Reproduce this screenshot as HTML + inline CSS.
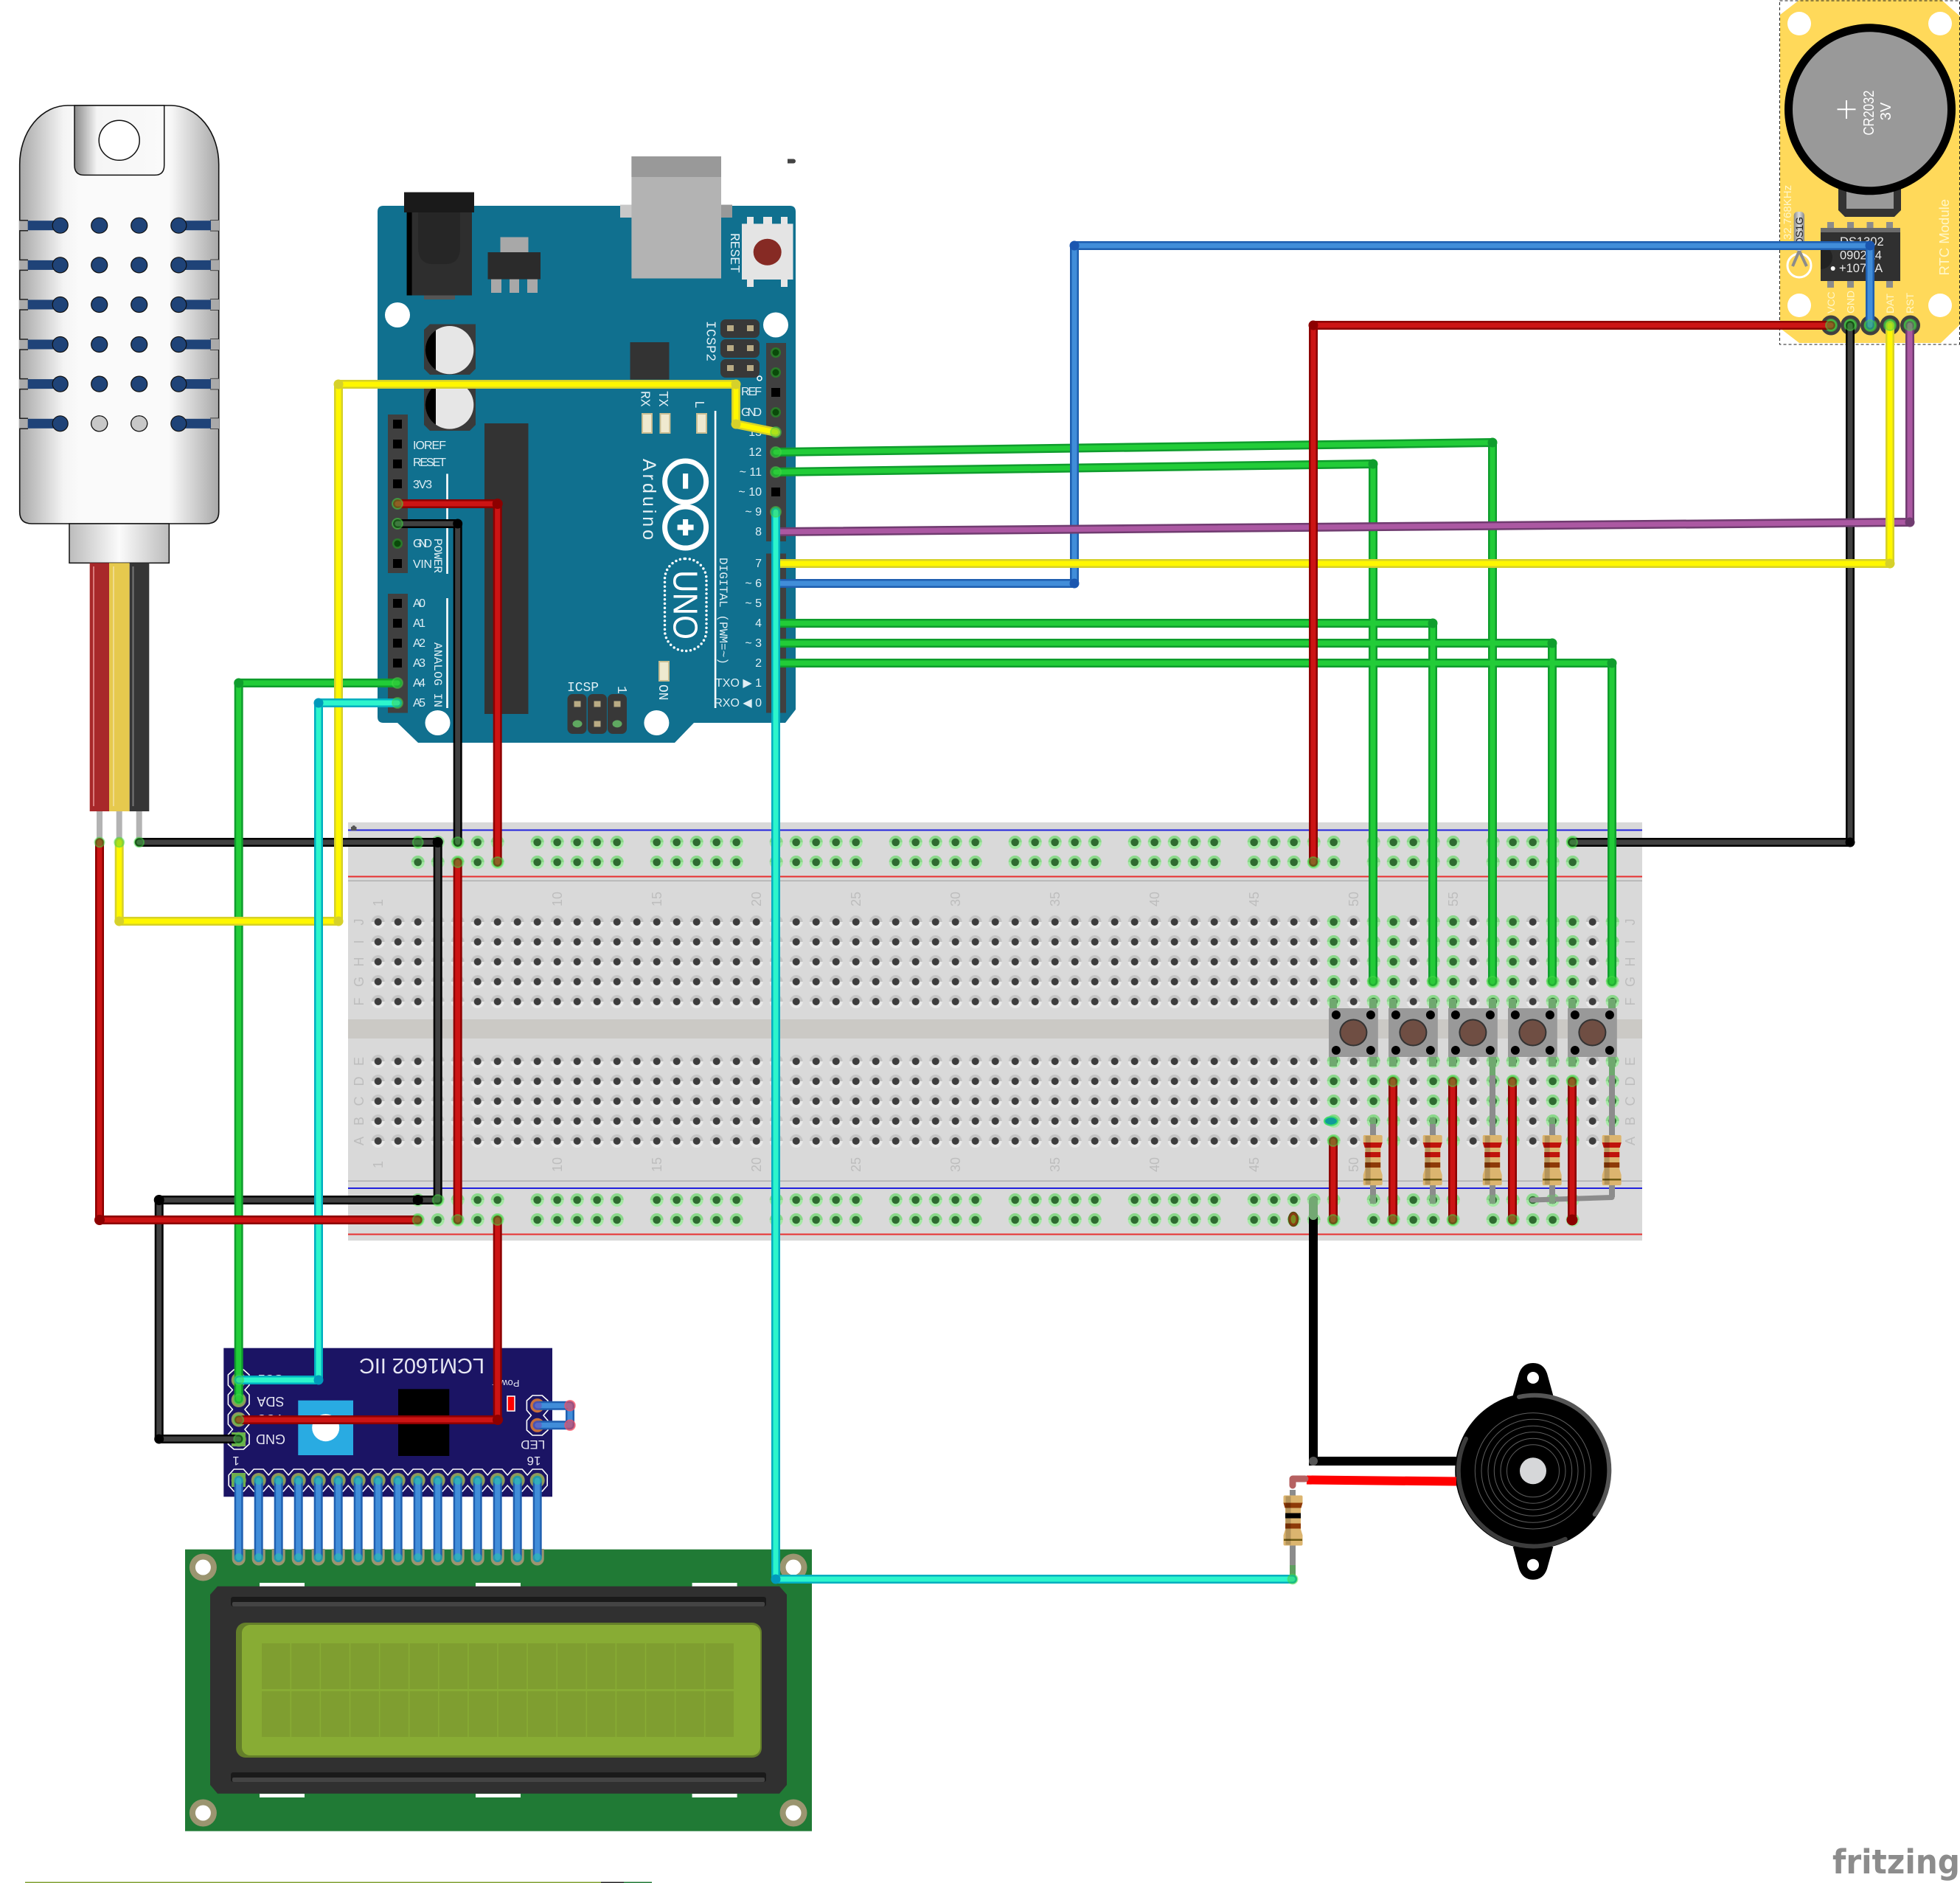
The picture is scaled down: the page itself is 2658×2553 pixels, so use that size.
<!DOCTYPE html>
<html><head><meta charset="utf-8"><title>Fritzing diagram</title>
<style>
html,body{margin:0;padding:0;background:#fff}
svg{display:block}
text{font-family:"Liberation Sans",sans-serif}
.m{font-family:"Liberation Mono",monospace;font-size:16px;fill:#dfeef4}
.r{font-family:"Liberation Mono",monospace;font-size:18px;fill:#dfeef4}
.bb{font-family:"Liberation Sans",sans-serif;font-size:18px;fill:#bdbdbd;text-anchor:middle}
.i2c{font-size:17px;fill:#e6e6f2;text-anchor:middle}
.w{fill:none;stroke-linecap:round;stroke-linejoin:round}
</style></head><body>
<svg xmlns="http://www.w3.org/2000/svg" width="2658" height="2553" viewBox="0 0 2658 2553">
<defs>
<linearGradient id="gb"><stop offset="0" stop-color="#a8a8a8"/><stop offset=".22" stop-color="#f4f4f4"/><stop offset=".3" stop-color="#fafafa"/><stop offset=".75" stop-color="#fafafa"/><stop offset="1" stop-color="#a8a8a8"/></linearGradient>
<linearGradient id="gt"><stop offset="0" stop-color="#8a8a8a"/><stop offset=".25" stop-color="#f5f5f5"/><stop offset="1" stop-color="#fafafa"/></linearGradient>
<linearGradient id="gn"><stop offset="0" stop-color="#bcbcbc"/><stop offset=".5" stop-color="#fbfbfb"/><stop offset="1" stop-color="#bcbcbc"/></linearGradient>
<linearGradient id="gc"><stop offset="0" stop-color="#888"/><stop offset=".5" stop-color="#ddd"/><stop offset="1" stop-color="#888"/></linearGradient>
<pattern id="h" patternUnits="userSpaceOnUse" x="499.2" y="1236.5" width="27" height="27">
<circle cx="13.5" cy="13.5" r="9" fill="#e8e8e8"/><path d="M4.5 13.5a9 9 0 0 1 18 0z" fill="#c4c4c4"/><circle cx="13.5" cy="13.5" r="5" fill="#3c3c3c"/></pattern>
<pattern id="g" patternUnits="userSpaceOnUse" x="499.2" y="1128.5" width="27" height="27">
<circle cx="13.5" cy="13.5" r="9" fill="#a4e8a4"/><path d="M4.5 13.5a9 9 0 0 1 18 0z" fill="#8ad88a"/><circle cx="13.5" cy="13.5" r="5.3" fill="#2e6a30"/></pattern>
<pattern id="g2" patternUnits="userSpaceOnUse" x="499.2" y="1613.5" width="27" height="27">
<circle cx="13.5" cy="13.5" r="9" fill="#a4e8a4"/><path d="M4.5 13.5a9 9 0 0 1 18 0z" fill="#8ad88a"/><circle cx="13.5" cy="13.5" r="5.3" fill="#2e6a30"/></pattern>
<g id="slot">
<rect x="26" y="-7" width="12" height="14" fill="#aaa"/><path d="M26-7H38M26 7H38M285-7H297M285 7H297" stroke="#222" stroke-width="1.5"/>
<rect x="285" y="-7" width="12" height="14" fill="#aaa"/>
<rect x="37.7" y="-6.5" width="44" height="13" fill="#1f4378"/><rect x="242" y="-6.5" width="44" height="13" fill="#1f4378"/>
<g fill="#1f4378" stroke="#111" stroke-width="1.2"><ellipse cx="81.7" rx="10.5" ry="10.5"/><ellipse cx="134.7" rx="11" ry="10.5"/><ellipse cx="188.7" rx="11" ry="10.5"/><ellipse cx="242.3" rx="10.5" ry="10.5"/></g>
</g>
<g id="btn">
<rect x="-33.4" y="-33" width="66.8" height="66" fill="#999"/>
<g fill="#000"><circle cx="-23.5" cy="-24" r="6"/><circle cx="23.5" cy="-24" r="6"/><circle cx="-23.5" cy="24" r="6"/><circle cx="23.5" cy="24" r="6"/></g>
<ellipse rx="19" ry="18.5" fill="#333"/><ellipse rx="17" ry="16.5" fill="#6f4e43"/>
</g>
<path id="rb" d="M-13 2Q-13 0-11 0H11Q13 0 13 2V10L10.5 18V46L13 54V66Q13 68 11 68H-11Q-13 68-13 66V54L-10.5 46V18L-13 10Z" fill="#dcb56f"/>
<g id="res">
<use href="#rb"/>
<path d="M-13 10H13L11 17H-11Z" fill="#c0140c"/><rect x="-10.5" y="23" width="21" height="7" fill="#c0140c"/><rect x="-10.5" y="37" width="21" height="7" fill="#8e3a08"/><rect x="-12.5" y="59" width="25" height="2.5" fill="#6e5a14"/>
<rect x="-10" y="1" width="7" height="66" fill="#000" opacity=".18"/>
</g>
<g id="res2">
<use href="#rb"/>
<path d="M-13 10H13L11 17H-11Z" fill="#8e3a08"/><rect x="-10.5" y="24" width="21" height="7" fill="#000"/><rect x="-10.5" y="38" width="21" height="7" fill="#8e3a08"/><rect x="-12.5" y="59" width="25" height="2.5" fill="#6e5a14"/>
<rect x="-10" y="1" width="7" height="66" fill="#000" opacity=".18"/>
</g>
<g id="oct"><polygon points="-13,-7 -6,-14 6,-14 13,-7 13,7 6,14 -6,14 -13,7" fill="none" stroke="#fff" stroke-width="1.6"/></g>
<g id="pad"><circle r="10" fill="#8f9b5c"/><circle r="6.5" fill="#5fb04c"/></g>
<g id="lp"><path d="M-9 -9H9V4.500A9 9 0 0 1-9 4.500Z" fill="#9b9570"/><rect x="-6" y="-9" width="12" height="14" fill="#5fb04c"/></g>
<g id="blk"><rect x="-6" y="-6" width="12" height="12" fill="#000"/></g>
<g id="grn"><circle r="7" fill="#2a7a2a"/><circle r="4.5" fill="#0a4a0a"/></g>
<g id="hdr"><circle r="13.500" fill="#404040"/><circle r="9" fill="#3f8f3f"/></g>
<g id="w16">
<path d="M323.700 2007V2112M350.700 2007V2112M377.700 2007V2112M404.700 2007V2112M431.700 2007V2112M458.700 2007V2112M485.700 2007V2112M512.700 2007V2112M539.700 2007V2112M566.700 2007V2112M593.700 2007V2112M620.700 2007V2112M647.700 2007V2112M674.700 2007V2112M701.700 2007V2112M728.700 2007V2112"/>
<path d="M728.700 1905.700H773V1932.300H728.700"/>
</g>
<path id="wBk" d="M188.700 1142H593.700V1627M593.700 1627H215.700V1951H323.700M539 710H620.700V1142M2509 441V1142H2132"/>
<path id="wG" d="M539 926H323.700V1897M1052 613L2024 600V1331M1052 640L1862 629V1331M1052 845H1943V1331M1052 872H2105V1331M1052 899H2186V1331"/>
<path id="wB" d="M1052 791H1457V333H2536V441"/>
<path id="wP" d="M1052 721L2590 708V441"/>
<path id="wY" d="M1052 586L998 575V521H459V1249H161.700V1142M1052 764H2563V441"/>
<path id="wC" d="M539 953H432V1871H323.700M1052 694V2141H1753"/>
<path id="wR" d="M135 1142V1654H566.700M539 683H674.700V1169M620.700 1169V1654M674.700 1654V1925H323.700M2483 441H1781V1169M1808 1547V1654M1889 1466V1654M1970 1466V1654M2051 1466V1654M2132 1466V1654"/>
</defs>

<rect width="2658" height="2553" fill="#fff"/>

<!-- Sensor -->
<g>
<path d="M26.700 223A65 80 0 0 1 92 143H232A65 80 0 0 1 296.700 223V694Q296.700 710 280 710H43Q26.700 710 26.700 694Z" fill="url(#gb)" stroke="#111" stroke-width="1.6"/>
<path d="M101 143V224Q101 237.400 114 237.400H210Q222.700 237.400 222.700 224V143Z" fill="url(#gt)" stroke="#111" stroke-width="1.5"/>
<ellipse cx="161.700" cy="190.300" rx="27.500" ry="27" fill="#fff" stroke="#111" stroke-width="1.5"/>
<use href="#slot" y="305.700"/><use href="#slot" y="359.400"/><use href="#slot" y="413"/><use href="#slot" y="467"/><use href="#slot" y="520.600"/><use href="#slot" y="574.300"/>
<ellipse cx="134.700" cy="574.300" rx="11" ry="10.500" fill="#c8c8c8" stroke="#111" stroke-width="1.200"/>
<ellipse cx="188.700" cy="574.300" rx="11" ry="10.500" fill="#c8c8c8" stroke="#111" stroke-width="1.200"/>
<rect x="94" y="710" width="135.300" height="53.300" fill="url(#gn)" stroke="#111" stroke-width="1.500"/>
<rect x="121.700" y="763.300" width="26.300" height="336.700" fill="#a8282a"/>
<rect x="148" y="763.300" width="27.700" height="336.700" fill="#e6c94e"/>
<rect x="175.700" y="763.300" width="26.600" height="336.700" fill="#363636"/>
<rect x="126" y="768" width="2" height="325" fill="#d87a7a"/><rect x="153" y="768" width="2" height="325" fill="#f0dc8c"/><rect x="179.500" y="768" width="2" height="325" fill="#777"/>
<rect x="131" y="1100" width="8" height="42" fill="#b3b3b3"/><rect x="157.700" y="1100" width="8" height="42" fill="#b3b3b3"/><rect x="184.700" y="1100" width="8" height="42" fill="#b3b3b3"/>
</g>

<!-- Breadboard -->
<g>
<rect x="472" y="1115" width="1755" height="567" fill="#d9d9d9"/>
<rect x="472" y="1382" width="1755" height="26" fill="#cbc9c5"/>
<rect x="472" y="1124.500" width="1755" height="2" fill="#2222dd"/>
<rect x="472" y="1187.500" width="1755" height="2" fill="#e83030"/>
<rect x="472" y="1193.500" width="1755" height="1.500" fill="#b0b0b0"/>
<rect x="472" y="1600.500" width="1755" height="1.500" fill="#b0b0b0"/>
<rect x="472" y="1610" width="1755" height="2" fill="#2222dd"/>
<rect x="472" y="1672.500" width="1755" height="2" fill="#e83030"/>
<path d="M476 1126v-5h7.500v5zM477.500 1121a2.300 2.300 0 0 1 4.500 0" fill="#555"/>
<rect x="499.200" y="1236.500" width="1701" height="135" fill="url(#h)"/>
<rect x="499.200" y="1425.500" width="1701" height="135" fill="url(#h)"/>
<g fill="url(#g)">
<rect x="1795.200" y="1236.500" width="27" height="135"/><rect x="1849.200" y="1236.500" width="54" height="135"/><rect x="1930.200" y="1236.500" width="54" height="135"/><rect x="2011.200" y="1236.500" width="54" height="135"/><rect x="2092.200" y="1236.500" width="54" height="135"/><rect x="2173.200" y="1236.500" width="27" height="135"/>
<rect x="1795.200" y="1425.500" width="27" height="135"/><rect x="1849.200" y="1425.500" width="54" height="135"/><rect x="1930.200" y="1425.500" width="54" height="135"/><rect x="2011.200" y="1425.500" width="54" height="135"/><rect x="2092.200" y="1425.500" width="54" height="135"/><rect x="2173.200" y="1425.500" width="27" height="135"/>
<rect x="553.200" y="1128.500" width="135" height="54"/><rect x="715.200" y="1128.500" width="135" height="54"/><rect x="877.200" y="1128.500" width="135" height="54"/><rect x="1039.200" y="1128.500" width="135" height="54"/><rect x="1201.200" y="1128.500" width="135" height="54"/><rect x="1363.200" y="1128.500" width="135" height="54"/><rect x="1525.200" y="1128.500" width="135" height="54"/><rect x="1687.200" y="1128.500" width="135" height="54"/><rect x="1849.200" y="1128.500" width="135" height="54"/><rect x="2011.200" y="1128.500" width="135" height="54"/>
</g>
<g fill="url(#g2)">
<rect x="553.200" y="1613.500" width="135" height="54"/><rect x="715.200" y="1613.500" width="135" height="54"/><rect x="877.200" y="1613.500" width="135" height="54"/><rect x="1039.200" y="1613.500" width="135" height="54"/><rect x="1201.200" y="1613.500" width="135" height="54"/><rect x="1363.200" y="1613.500" width="135" height="54"/><rect x="1525.200" y="1613.500" width="135" height="54"/><rect x="1687.200" y="1613.500" width="135" height="54"/><rect x="1849.200" y="1613.500" width="135" height="54"/><rect x="2011.200" y="1613.500" width="135" height="54"/>
</g>
<!-- labels -->
<g class="bb">
<text x="513" y="1224" transform="rotate(-90 513 1224)" dy="6">1</text>
<text x="756" y="1219" transform="rotate(-90 756 1219)" dy="6">10</text><text x="891" y="1219" transform="rotate(-90 891 1219)" dy="6">15</text><text x="1026" y="1219" transform="rotate(-90 1026 1219)" dy="6">20</text><text x="1161" y="1219" transform="rotate(-90 1161 1219)" dy="6">25</text><text x="1296" y="1219" transform="rotate(-90 1296 1219)" dy="6">30</text><text x="1431" y="1219" transform="rotate(-90 1431 1219)" dy="6">35</text><text x="1566" y="1219" transform="rotate(-90 1566 1219)" dy="6">40</text><text x="1701" y="1219" transform="rotate(-90 1701 1219)" dy="6">45</text><text x="1836" y="1219" transform="rotate(-90 1836 1219)" dy="6">50</text><text x="1971" y="1219" transform="rotate(-90 1971 1219)" dy="6">55</text>
<text x="513" y="1579" transform="rotate(-90 513 1579)" dy="6">1</text>
<text x="756" y="1579" transform="rotate(-90 756 1579)" dy="6">10</text><text x="891" y="1579" transform="rotate(-90 891 1579)" dy="6">15</text><text x="1026" y="1579" transform="rotate(-90 1026 1579)" dy="6">20</text><text x="1161" y="1579" transform="rotate(-90 1161 1579)" dy="6">25</text><text x="1296" y="1579" transform="rotate(-90 1296 1579)" dy="6">30</text><text x="1431" y="1579" transform="rotate(-90 1431 1579)" dy="6">35</text><text x="1566" y="1579" transform="rotate(-90 1566 1579)" dy="6">40</text><text x="1701" y="1579" transform="rotate(-90 1701 1579)" dy="6">45</text><text x="1836" y="1579" transform="rotate(-90 1836 1579)" dy="6">50</text>
<text x="487" y="1250" transform="rotate(-90 487 1250)" dy="6">J</text><text x="487" y="1277" transform="rotate(-90 487 1277)" dy="6">I</text><text x="487" y="1304" transform="rotate(-90 487 1304)" dy="6">H</text><text x="487" y="1331" transform="rotate(-90 487 1331)" dy="6">G</text><text x="487" y="1358" transform="rotate(-90 487 1358)" dy="6">F</text><text x="487" y="1439" transform="rotate(-90 487 1439)" dy="6">E</text><text x="487" y="1466" transform="rotate(-90 487 1466)" dy="6">D</text><text x="487" y="1493" transform="rotate(-90 487 1493)" dy="6">C</text><text x="487" y="1520" transform="rotate(-90 487 1520)" dy="6">B</text><text x="487" y="1547" transform="rotate(-90 487 1547)" dy="6">A</text>
<text x="2211" y="1250" transform="rotate(-90 2211 1250)" dy="6">J</text><text x="2211" y="1277" transform="rotate(-90 2211 1277)" dy="6">I</text><text x="2211" y="1304" transform="rotate(-90 2211 1304)" dy="6">H</text><text x="2211" y="1331" transform="rotate(-90 2211 1331)" dy="6">G</text><text x="2211" y="1358" transform="rotate(-90 2211 1358)" dy="6">F</text><text x="2211" y="1439" transform="rotate(-90 2211 1439)" dy="6">E</text><text x="2211" y="1466" transform="rotate(-90 2211 1466)" dy="6">D</text><text x="2211" y="1493" transform="rotate(-90 2211 1493)" dy="6">C</text><text x="2211" y="1520" transform="rotate(-90 2211 1520)" dy="6">B</text><text x="2211" y="1547" transform="rotate(-90 2211 1547)" dy="6">A</text>
</g>
<!-- small marks -->
<ellipse cx="1805" cy="1520" rx="9" ry="5.700" fill="#0f9a9a" stroke="#3fdc6a" stroke-width="2"/>
<ellipse cx="1754" cy="1653" rx="6.500" ry="9.500" fill="#8a3a10" stroke="#5a4a10" stroke-width="1.500"/><ellipse cx="1754" cy="1653" rx="3.500" ry="6" fill="#7a8a20"/>
<ellipse cx="2104.700" cy="1169" rx="6" ry="5" fill="#8a5a10"/>
<!-- button stems -->
<path d="M1808 1354V1446M1862 1354V1446M1889 1354V1446M1943 1354V1446M1970 1354V1446M2024 1354V1446M2051 1354V1446M2105 1354V1446M2132 1354V1446M2186 1354V1446" stroke="#6fa86f" stroke-width="10" fill="none"/>
<use href="#btn" x="1835.400" y="1400"/><use href="#btn" x="1916.400" y="1400"/><use href="#btn" x="1997.400" y="1400"/><use href="#btn" x="2078.400" y="1400"/><use href="#btn" x="2159.400" y="1400"/>
<!-- resistor leads -->
<path d="M1862 1520V1627M1943 1520V1627M2024 1458V1627M2105 1520V1627M2186 1458V1623" stroke="#8c8c8c" stroke-width="8" fill="none"/>
<path d="M2024 1440V1458M2186 1440V1458M1862 1515V1524M1943 1515V1524M2105 1515V1524" stroke="#6fa86f" stroke-width="8" fill="none"/>
<path d="M2077.700 1627L2186 1623.500" stroke="#8c8c8c" stroke-width="7" stroke-linecap="round" fill="none"/>
<path d="M1862 1620V1632M1943 1620V1632M2024 1620V1632M2105 1620V1632" stroke="#7fa07f" stroke-width="8" fill="none"/>
<use href="#res" x="1861.700" y="1539"/><use href="#res" x="1942.700" y="1539"/><use href="#res" x="2023.700" y="1539"/><use href="#res" x="2104.700" y="1539"/><use href="#res" x="2185.700" y="1539"/>
</g>

<!-- Arduino -->
<g>
<path d="M520 279H1071Q1079 279 1079 287V962L1065 980H941L915 1007H567L539 980H520Q512 980 512 972V287Q512 279 520 279Z" fill="#10708f"/>
<!-- USB -->
<rect x="841" y="277.600" width="152" height="17.400" fill="#c8c8c8"/>
<rect x="978" y="277.600" width="15" height="17.400" fill="#999"/>
<rect x="856.400" y="212" width="121.600" height="165.500" fill="#b3b3b3"/><rect x="856.400" y="212" width="121.600" height="28" fill="#999"/>
<!-- jack -->
<rect x="575" y="400" width="42" height="6" fill="#555"/>
<rect x="551.600" y="288" width="88.400" height="112.500" fill="#2e2e2e"/><rect x="551.600" y="288" width="7" height="112.500" fill="#000"/>
<rect x="548" y="260.600" width="95" height="27.400" fill="#1a1a1a"/>
<path d="M567 288H624V335Q624 358 604 358H587Q567 358 567 335Z" fill="#262626"/>
<!-- regulator -->
<rect x="678.500" y="321.500" width="38" height="21" fill="#a8a8a8"/>
<rect x="666" y="378" width="14" height="19" fill="#a8a8a8"/><rect x="691" y="378" width="13" height="19" fill="#a8a8a8"/><rect x="715" y="378" width="14" height="19" fill="#a8a8a8"/>
<rect x="661.500" y="342" width="71.500" height="36.600" fill="#2b2b2b"/>
<!-- reset -->
<g fill="#e6e6e6"><rect x="1013" y="294" width="9" height="10"/><rect x="1035" y="294" width="12" height="10"/><rect x="1059" y="294" width="9" height="10"/><rect x="1013" y="378" width="9" height="11"/><rect x="1059" y="378" width="9" height="11"/></g>
<rect x="1006" y="303.400" width="69.500" height="75.600" fill="#e4e4e4"/>
<ellipse cx="1040.700" cy="341.800" rx="19" ry="18" fill="#862a24"/>
<!-- holes -->
<g fill="#fff"><circle cx="539" cy="427" r="17"/><circle cx="1052" cy="440.500" r="17"/><circle cx="593.500" cy="980" r="17"/><circle cx="890.400" cy="980" r="17"/></g>
<!-- caps -->
<path d="M583 439.500H645V500L637 508H583L575 500V447Z" fill="#3a3a3a"/>
<path d="M583 515H645V576L637 584H583L575 576V523Z" fill="#3a3a3a"/>
<circle cx="609.700" cy="474.600" r="32.600" fill="#e6e6e6"/><path d="M591 447.700A32.600 32.600 0 0 0 591 501.400Z" fill="#000"/>
<circle cx="609.700" cy="549" r="32.600" fill="#e6e6e6"/><path d="M591 522.100A32.600 32.600 0 0 0 591 575.800Z" fill="#000"/>
<!-- chips -->
<rect x="657" y="574" width="59.500" height="394" fill="#333"/>
<rect x="854.500" y="464" width="53" height="50.600" fill="#333"/>
<!-- headers -->
<rect x="526" y="562" width="27" height="215" fill="#404040"/><rect x="526" y="805" width="27" height="161.600" fill="#404040"/>
<rect x="1039" y="465" width="27" height="269" fill="#404040"/><rect x="1039" y="750.500" width="27" height="216" fill="#404040"/>
<g>
<use href="#blk" x="539" y="575"/><use href="#blk" x="539" y="602"/><use href="#blk" x="539" y="629"/><use href="#blk" x="539" y="656"/><use href="#grn" x="539" y="737"/><use href="#blk" x="539" y="764"/>
<use href="#blk" x="539" y="818"/><use href="#blk" x="539" y="845"/><use href="#blk" x="539" y="872"/><use href="#blk" x="539" y="899"/>
<use href="#grn" x="1052" y="478"/><use href="#grn" x="1052" y="505"/><use href="#blk" x="1052" y="532"/><use href="#grn" x="1052" y="559"/><use href="#blk" x="1052" y="667"/>
<use href="#blk" x="1052" y="818"/><use href="#blk" x="1052" y="926"/><use href="#blk" x="1052" y="953"/>
</g>
<!-- ICSP2 -->
<g fill="#383838"><rect x="977" y="433" width="53" height="25" rx="7"/><rect x="977" y="460" width="53" height="25" rx="7"/><rect x="977" y="487" width="53" height="25" rx="7"/></g>
<g fill="#b9ab84"><rect x="986" y="441" width="9" height="8"/><rect x="1013" y="441" width="9" height="8"/><rect x="986" y="468" width="9" height="8"/><rect x="1013" y="468" width="9" height="8"/><rect x="986" y="495" width="9" height="8"/><rect x="1013" y="495" width="9" height="8"/></g>
<circle cx="1030" cy="513" r="3" fill="none" stroke="#fff" stroke-width="1.500"/>
<!-- ICSP -->
<g fill="#383838"><rect x="769.500" y="941" width="26" height="54" rx="7"/><rect x="797" y="941" width="26" height="54" rx="7"/><rect x="824" y="941" width="26" height="54" rx="7"/></g>
<g fill="#b9ab84"><rect x="778.500" y="950.500" width="9" height="8"/><rect x="805.500" y="950.500" width="9" height="8"/><rect x="832.500" y="950.500" width="9" height="8"/><rect x="805.500" y="977.500" width="9" height="8"/></g>
<ellipse cx="783" cy="981.400" rx="6.500" ry="5" fill="#5fa860"/><ellipse cx="837" cy="981.400" rx="6.500" ry="5" fill="#5fa860"/>
<!-- LEDs -->
<g fill="#efe9cf" stroke="#c9bd92" stroke-width="2"><rect x="871" y="561" width="13" height="26"/><rect x="895.400" y="561" width="13" height="26"/><rect x="945" y="561" width="13" height="26"/><rect x="894" y="897" width="13" height="26"/></g>
<!-- lines -->
<g fill="#fff"><rect x="968.800" y="557" width="2.600" height="403"/><rect x="605.200" y="642.400" width="2.600" height="135.600"/><rect x="605.200" y="811" width="2.600" height="149"/></g>
<!-- logo -->
<circle cx="929.600" cy="653" r="28" fill="none" stroke="#fff" stroke-width="7"/>
<circle cx="929.600" cy="715" r="28" fill="none" stroke="#fff" stroke-width="7"/>
<rect x="926" y="642" width="7.200" height="20.600" fill="#fff"/>
<rect x="926" y="704" width="7.200" height="22" fill="#fff"/><rect x="918.600" y="711.400" width="22" height="7.200" fill="#fff"/>
<rect x="901.500" y="757.500" width="56.500" height="125" rx="28" fill="none" stroke="#fff" stroke-width="3.500" stroke-dasharray="0 5.800" stroke-linecap="round"/>
<text x="929.600" y="820" transform="rotate(90 929.600 820)" text-anchor="middle" dy="16" font-size="46" fill="#fff" textLength="94" lengthAdjust="spacingAndGlyphs">UNO</text>
<text x="872" y="622" transform="rotate(90 872 622)" font-size="25" fill="#e6f0f4" textLength="110">Arduino</text>
<text x="976" y="756" transform="rotate(90 976 756)" class="m" textLength="145">DIGITAL (PWM=~)</text>
<text x="589" y="730" transform="rotate(90 589 730)" class="m" textLength="47">POWER</text>
<text x="589" y="871" transform="rotate(90 589 871)" class="m" textLength="88">ANALOG IN</text>
<text x="991" y="316" transform="rotate(90 991 316)" class="r" textLength="54">RESET</text>
<text x="958.500" y="435" transform="rotate(90 958.500 435)" class="r" textLength="55">ICSP2</text>
<text x="869.500" y="530" transform="rotate(90 869.500 530)" class="r">RX</text>
<text x="894" y="530" transform="rotate(90 894 530)" class="r">TX</text>
<text x="943" y="543" transform="rotate(90 943 543)" class="r">L</text>
<text x="894" y="928" transform="rotate(90 894 928)" class="r">ON</text>
<text x="769" y="937" class="r" textLength="43">ICSP</text>
<text x="838" y="930" transform="rotate(90 838 930)" class="r">1</text>
<g class="m">
<text x="560" y="609" textLength="45">IOREF</text><text x="560" y="632" textLength="45">RESET</text><text x="560" y="662" textLength="26">3V3</text><text x="560" y="742" textLength="26">GND</text><text x="560" y="770" textLength="26">VIN</text>
<text x="560" y="823" textLength="17">A0</text><text x="560" y="850" textLength="17">A1</text><text x="560" y="877" textLength="17">A2</text><text x="560" y="904" textLength="17">A3</text><text x="560" y="931" textLength="17">A4</text><text x="560" y="958" textLength="17">A5</text>
<text x="1005" y="536" textLength="28">REF</text><text x="1005" y="564" textLength="28">GND</text>
<g text-anchor="end">
<text x="1033" y="591">13</text><text x="1033" y="618">12</text><text x="1033" y="645">~ 11</text><text x="1033" y="672">~ 10</text><text x="1033" y="699">~ 9</text><text x="1033" y="726">8</text><text x="1033" y="769">7</text><text x="1033" y="796">~ 6</text><text x="1033" y="823">~ 5</text><text x="1033" y="850">4</text><text x="1033" y="877">~ 3</text><text x="1033" y="904">2</text><text x="1033" y="931">TXO ▶ 1</text><text x="1033" y="958">RXO ◀ 0</text>
</g>
</g>
<path d="M1068 215.500h8a3 3 0 0 1 0 6h-8z" fill="#444"/>
</g>

<!-- RTC -->
<g>
<path d="M2440 0H2633L2658 22V440L2632 465H2440L2414 445V20Z" fill="#ffd95a"/>
<g fill="#fff"><circle cx="2440" cy="32" r="16"/><circle cx="2631" cy="32" r="16"/><circle cx="2440" cy="414" r="16"/><circle cx="2631" cy="414" r="16"/></g>
<path d="M2493 240H2578V285L2569 294H2502L2493 285Z" fill="#333"/><rect x="2504" y="240" width="64" height="43" fill="#999"/>
<circle cx="2536" cy="148.300" r="116" fill="#000"/><circle cx="2536" cy="148.300" r="105" fill="#999"/>
<path d="M2491.500 148.300H2516.500M2504 136V161" stroke="#fff" stroke-width="2" fill="none"/>
<text x="2541" y="153" transform="rotate(-90 2541 153)" text-anchor="middle" font-size="20" fill="#fff" textLength="61" lengthAdjust="spacingAndGlyphs">CR2032</text>
<text x="2564" y="151" transform="rotate(-90 2564 151)" text-anchor="middle" font-size="20" fill="#fff">3V</text>
<text x="2429" y="288" transform="rotate(-90 2429 288)" text-anchor="middle" font-size="15" fill="#fff6c8">32.768KHz</text>
<text x="2643" y="321.700" transform="rotate(-90 2643 321.700)" text-anchor="middle" font-size="18.500" fill="#fff6c8">RTC Module</text>
<!-- crystal -->
<circle cx="2440" cy="360" r="16" fill="none" stroke="#fff" stroke-width="3"/>
<path d="M2440 340L2431 361M2440 340L2450 361" stroke="#8c8c8c" stroke-width="4" fill="none"/>
<rect x="2432.700" y="287" width="14.300" height="53" rx="5" fill="url(#gc)"/>
<text x="2440" y="313" transform="rotate(-90 2440 313)" text-anchor="middle" dy="5" font-size="14" fill="#222">DS1G</text>
<!-- chip -->
<g fill="#8c8c8c"><rect x="2478" y="301" width="9" height="9"/><rect x="2505" y="301" width="9" height="9"/><rect x="2531.500" y="301" width="9" height="9"/><rect x="2558" y="301" width="9" height="9"/><rect x="2478" y="381" width="9" height="9"/><rect x="2505" y="381" width="9" height="9"/><rect x="2531.500" y="381" width="9" height="9"/><rect x="2558" y="381" width="9" height="9"/></g>
<rect x="2469" y="309" width="108" height="72" fill="#303030"/><rect x="2469" y="309" width="108" height="6" fill="#6b6b6b"/>
<path d="M2469 333A15 15 0 0 1 2469 365Z" fill="#222"/>
<g font-size="16.500" fill="#e8e8e8"><text x="2495" y="333">DS1302</text><text x="2495" y="351.500">0902A4</text><text x="2494" y="369">+107AA</text></g>
<circle cx="2485.700" cy="364" r="3" fill="#fff"/>
<g font-size="14" fill="#fff6c8" text-anchor="start">
<text x="2488" y="425" transform="rotate(-90 2488 425)">VCC</text><text x="2514.500" y="425" transform="rotate(-90 2514.500 425)">GND</text><text x="2541" y="425" transform="rotate(-90 2541 425)">CLK</text><text x="2568" y="425" transform="rotate(-90 2568 425)">DAT</text><text x="2595" y="425" transform="rotate(-90 2595 425)">RST</text>
</g>
<use href="#hdr" x="2483" y="441"/><use href="#hdr" x="2509.500" y="441"/><use href="#hdr" x="2536.500" y="441"/><use href="#hdr" x="2563" y="441"/><use href="#hdr" x="2590.500" y="441"/>
<rect x="2413.500" y="1" width="244" height="466" fill="none" stroke="#222" stroke-width="1" stroke-dasharray="4 3"/>
</g>

<!-- LCD -->
<g>
<rect x="251" y="2100.700" width="850" height="382" fill="#207a35"/>
<g fill="#9b9570"><circle cx="275.400" cy="2125" r="18.500"/><circle cx="1076" cy="2125" r="18.500"/><circle cx="275.400" cy="2458" r="18.500"/><circle cx="1076" cy="2458" r="18.500"/></g>
<g fill="#fff"><ellipse cx="275.400" cy="2125" rx="10.500" ry="10.500"/><ellipse cx="1076" cy="2125" rx="10.500" ry="10.500"/><ellipse cx="275.400" cy="2458" rx="10.500" ry="10.500"/><ellipse cx="1076" cy="2458" rx="10.500" ry="10.500"/></g>
<g fill="#fff"><rect x="352" y="2146" width="61" height="5"/><rect x="645" y="2146" width="61" height="5"/><rect x="938.600" y="2146" width="61" height="5"/><rect x="352" y="2432" width="61" height="5"/><rect x="645" y="2432" width="61" height="5"/><rect x="938.600" y="2432" width="61" height="5"/></g>
<path d="M295 2150.700H1057L1067 2162V2420L1057 2431.700H295L285 2420V2162Z" fill="#303030"/>
<rect x="313" y="2165" width="726" height="13" rx="3" fill="#1a1a1a"/><rect x="315" y="2172" width="722" height="6" rx="2" fill="#444"/>
<rect x="313" y="2403" width="726" height="13" rx="3" fill="#1a1a1a"/><rect x="315" y="2410" width="722" height="6" rx="2" fill="#444"/>
<rect x="320" y="2200" width="713" height="183" rx="13" fill="#647f2a"/><rect x="328" y="2203" width="703" height="177" rx="11" fill="#88ac34"/>
<g fill="#7f9e30" id="cells">
<rect x="355" y="2228" width="38.500" height="62"/><rect x="395.100" y="2228" width="38.500" height="62"/><rect x="435.200" y="2228" width="38.500" height="62"/><rect x="475.300" y="2228" width="38.500" height="62"/><rect x="515.400" y="2228" width="38.500" height="62"/><rect x="555.500" y="2228" width="38.500" height="62"/><rect x="595.600" y="2228" width="38.500" height="62"/><rect x="635.700" y="2228" width="38.500" height="62"/><rect x="675.800" y="2228" width="38.500" height="62"/><rect x="715.900" y="2228" width="38.500" height="62"/><rect x="756" y="2228" width="38.500" height="62"/><rect x="796.100" y="2228" width="38.500" height="62"/><rect x="836.200" y="2228" width="38.500" height="62"/><rect x="876.300" y="2228" width="38.500" height="62"/><rect x="916.400" y="2228" width="38.500" height="62"/><rect x="956.500" y="2228" width="38.500" height="62"/>
</g>
<use href="#cells" y="65"/>
<use href="#lp" x="323.700" y="2109"/><use href="#lp" x="350.700" y="2109"/><use href="#lp" x="377.700" y="2109"/><use href="#lp" x="404.700" y="2109"/><use href="#lp" x="431.700" y="2109"/><use href="#lp" x="458.700" y="2109"/><use href="#lp" x="485.700" y="2109"/><use href="#lp" x="512.700" y="2109"/><use href="#lp" x="539.700" y="2109"/><use href="#lp" x="566.700" y="2109"/><use href="#lp" x="593.700" y="2109"/><use href="#lp" x="620.700" y="2109"/><use href="#lp" x="647.700" y="2109"/><use href="#lp" x="674.700" y="2109"/><use href="#lp" x="701.700" y="2109"/><use href="#lp" x="728.700" y="2109"/>
</g>

<!-- I2C -->
<g>
<rect x="303.300" y="1827.700" width="445.700" height="201.600" fill="#1b1464"/>
<text x="572" y="1852" transform="rotate(180 572 1852)" text-anchor="middle" dy="10" font-size="29" fill="#e6e6f2" textLength="170">LCM1602 IIC</text>
<text x="686" y="1876" transform="rotate(180 686 1876)" text-anchor="middle" dy="5" font-size="13" fill="#e6e6f2">Power</text>
<rect x="688" y="1893" width="10" height="20" fill="#f00" stroke="#fff" stroke-width="1.500"/>
<g class="i2c">
<text x="367" y="1870" transform="rotate(180 367 1870)" dy="6">SCL</text><text x="367" y="1900" transform="rotate(180 367 1900)" dy="6" font-size="18">SDA</text><text x="367" y="1924" transform="rotate(180 367 1924)" dy="6">VCC</text><text x="367" y="1951" transform="rotate(180 367 1951)" dy="6" font-size="18">GND</text>
<text x="722.700" y="1959" transform="rotate(180 722.700 1959)" dy="6">LED</text><text x="724" y="1981" transform="rotate(180 724 1981)" dy="6">16</text><text x="320" y="1981" transform="rotate(180 320 1981)" dy="6">1</text>
</g>
<rect x="404.300" y="1898.700" width="74.700" height="74.300" fill="#29abe2"/><circle cx="441.700" cy="1935.700" r="18.500" fill="#fff"/>
<rect x="540" y="1883.300" width="69.300" height="90.700" fill="#000"/>
<!-- silkscreen outlines -->
<g fill="none" stroke="#fff" stroke-width="1.600" stroke-linejoin="round">
<path d="M310.200 2000l7-8h13l7 8l7-8h13l7 8l7-8h13l7 8l7-8h13l7 8l7-8h13l7 8l7-8h13l7 8l7-8h13l7 8l7-8h13l7 8l7-8h13l7 8l7-8h13l7 8l7-8h13l7 8l7-8h13l7 8l7-8h13l7 8l7-8h13l7 8l7-8h13l7 8l7-8h13l7 8V2014l-7 8h-13l-7-8l-7 8h-13l-7-8l-7 8h-13l-7-8l-7 8h-13l-7-8l-7 8h-13l-7-8l-7 8h-13l-7-8l-7 8h-13l-7-8l-7 8h-13l-7-8l-7 8h-13l-7-8l-7 8h-13l-7-8l-7 8h-13l-7-8l-7 8h-13l-7-8l-7 8h-13l-7-8l-7 8h-13l-7-8l-7 8h-13l-7-8l-7 8h-13l-7-8Z"/>
<path d="M317.200 1857H330.200L338 1864V1878L332 1884.500L338 1891V1904L332 1911L338 1918V1931L332 1938L338 1945V1958L330.200 1965H317.200L309.400 1958V1945L315.400 1938L309.400 1931V1918L315.400 1911L309.400 1904V1891L315.400 1884.500L309.400 1878V1864Z"/>
<path d="M722.200 1892H735.200L743 1899V1912L737 1919L743 1926V1939L735.200 1946H722.200L714.400 1939V1926L720.400 1919L714.400 1912V1899Z"/>
</g>
<use href="#pad" x="323.700" y="1871"/><use href="#pad" x="323.700" y="1898"/><use href="#pad" x="323.700" y="1924.500"/><use href="#pad" x="323.700" y="1951.500"/>
<use href="#pad" x="323.700" y="2007"/><use href="#pad" x="350.700" y="2007"/><use href="#pad" x="377.700" y="2007"/><use href="#pad" x="404.700" y="2007"/><use href="#pad" x="431.700" y="2007"/><use href="#pad" x="458.700" y="2007"/><use href="#pad" x="485.700" y="2007"/><use href="#pad" x="512.700" y="2007"/><use href="#pad" x="539.700" y="2007"/><use href="#pad" x="566.700" y="2007"/><use href="#pad" x="593.700" y="2007"/><use href="#pad" x="620.700" y="2007"/><use href="#pad" x="647.700" y="2007"/><use href="#pad" x="674.700" y="2007"/><use href="#pad" x="701.700" y="2007"/><use href="#pad" x="728.700" y="2007"/>
<rect x="314" y="1997" width="19" height="19" fill="#6fae4e"/>
<rect x="314" y="1942" width="19" height="19" fill="#6fae4e"/>
<circle cx="728.700" cy="1905.700" r="9.500" fill="#c8703c"/><circle cx="728.700" cy="1932.300" r="9.500" fill="#c8703c"/>
</g>

<!-- Buzzer -->
<g>
<path d="M2051.700 1892L2060 1862Q2065 1848 2079 1848Q2093 1848 2098 1862L2106.300 1892Z" fill="#000"/>
<path d="M2051.700 2097L2060 2127Q2065 2141.700 2079 2141.700Q2093 2141.700 2098 2127L2106.300 2097Z" fill="#000"/>
<circle cx="2079" cy="1868" r="8" fill="#fff"/><circle cx="2079" cy="2121.700" r="8" fill="#fff"/>
<circle cx="2079" cy="1994.300" r="105.800" fill="#000"/>
<g fill="none" stroke="#5e5e5e" stroke-width="1"><circle cx="2079" cy="1994.300" r="78.700"/><circle cx="2079" cy="1994.300" r="70"/><circle cx="2079" cy="1994.300" r="61"/><circle cx="2079" cy="1994.300" r="52.700"/><circle cx="2079" cy="1994.300" r="44"/><circle cx="2079" cy="1994.300" r="35.500"/></g>
<circle cx="2079" cy="1994.300" r="18" fill="#d6d7d9"/>
<path d="M2060 1894A101.500 101.500 0 0 1 2162.700 2053.300" fill="none" stroke="#555" stroke-width="6" stroke-linecap="round"/>
<path d="M1988 1950.700A101.500 101.500 0 0 0 2122.700 2086.700" fill="none" stroke="#3c3c3c" stroke-width="6" stroke-linecap="round"/>
</g>
<!-- Buzzer wires and resistor -->
<path d="M1772 2006.500L1975 2008.500" stroke="#f00" stroke-width="12" fill="none"/>
<path d="M1781 1650V1981H1975" stroke="#000" stroke-width="12" fill="none"/>
<path d="M1781 1628V1648" stroke="#73a873" stroke-width="12" stroke-linecap="round" fill="none"/>
<circle cx="1781" cy="1981" r="6" fill="#555"/>
<path d="M1753 2020V2141" stroke="#8c8c8c" stroke-width="8" fill="none"/>
<path d="M1753 2122V2140" stroke="#5f9f60" stroke-width="8" fill="none"/>
<path d="M1753 2014V2005H1770" stroke="#b56060" stroke-width="9" stroke-linecap="round" stroke-linejoin="round" fill="none"/>
<use href="#res2" x="1753.500" y="2027.500"/>

<!-- Wires -->
<g class="w">
<use href="#wBk" stroke="#000" stroke-width="12"/><use href="#wBk" stroke="#404040" stroke-width="7"/>
<use href="#wG" stroke="#0f9d2d" stroke-width="12"/><use href="#wG" stroke="#22cc38" stroke-width="7"/>
<use href="#w16" stroke="#1f5fb0" stroke-width="12"/><use href="#w16" stroke="#418dd9" stroke-width="7"/>
<use href="#wB" stroke="#1f5fb0" stroke-width="12"/><use href="#wB" stroke="#418dd9" stroke-width="7"/>
<use href="#wP" stroke="#703c70" stroke-width="12"/><use href="#wP" stroke="#ab58a2" stroke-width="7"/>
<use href="#wY" stroke="#d6d12a" stroke-width="12"/><use href="#wY" stroke="#fff700" stroke-width="7"/>
<use href="#wC" stroke="#00aebf" stroke-width="12"/><use href="#wC" stroke="#2df5cc" stroke-width="7"/>
<use href="#wR" stroke="#8c0000" stroke-width="12"/><use href="#wR" stroke="#cc1414" stroke-width="7"/>
</g>
<!-- bend dots -->
<g fill="#000"><circle cx="593.700" cy="1142" r="7"/><circle cx="566.700" cy="1627" r="7"/><circle cx="215.700" cy="1627" r="7"/><circle cx="620.700" cy="710" r="6.500"/><circle cx="215.700" cy="1951" r="6.500"/><circle cx="2509" cy="1142" r="6.500"/></g>
<g fill="#8c0000"><circle cx="135" cy="1654" r="7"/><circle cx="674.700" cy="683" r="7"/><circle cx="675" cy="1925" r="7"/><circle cx="1781" cy="441" r="6.500"/><circle cx="2132" cy="1654" r="7.500"/></g>
<g fill="#1a56b0"><circle cx="1457" cy="791" r="6.500"/><circle cx="1457" cy="333" r="6.500"/><circle cx="2536" cy="333" r="6.500"/></g>
<g fill="#0099bb"><circle cx="432" cy="1871" r="6.500"/><circle cx="432" cy="953" r="6.500"/><circle cx="1052" cy="2141" r="6.500"/></g>
<g fill="#0f9d2d"><circle cx="323.700" cy="926" r="6.500"/><circle cx="2024" cy="600" r="6.500"/><circle cx="1862" cy="629" r="6.500"/><circle cx="1943" cy="845" r="6.500"/><circle cx="2105" cy="872" r="6.500"/><circle cx="2186" cy="899" r="6.500"/></g>
<g fill="#d6d12a"><circle cx="998" cy="521" r="6.500"/><circle cx="998" cy="575" r="6.500"/><circle cx="459" cy="521" r="6.500"/><circle cx="459" cy="1249" r="6.500"/><circle cx="161.700" cy="1249" r="6.500"/><circle cx="2563" cy="764" r="6.500"/></g>
<g fill="#703c70"><circle cx="2590" cy="708" r="6.500"/></g>
<!-- connected-end glow -->
<g fill="rgba(60,200,60,.42)" stroke="rgba(70,220,70,.45)" stroke-width="2">
<circle cx="135" cy="1142" r="6.500"/><circle cx="161.700" cy="1142" r="6.500"/><circle cx="188.700" cy="1142" r="6.500"/>
<circle cx="566.700" cy="1142" r="7"/><circle cx="620.700" cy="1142" r="7"/><circle cx="620.700" cy="1169" r="7"/><circle cx="674.700" cy="1169" r="7"/>
<circle cx="566.700" cy="1654" r="7"/><circle cx="620.700" cy="1654" r="7"/><circle cx="674.700" cy="1654" r="7"/><circle cx="593.700" cy="1627" r="7"/>
<circle cx="539" cy="683" r="7"/><circle cx="539" cy="710" r="7"/><circle cx="539" cy="926" r="7"/><circle cx="539" cy="953" r="7"/>
<circle cx="1052" cy="586" r="7"/><circle cx="1052" cy="613" r="7"/><circle cx="1052" cy="640" r="7"/><circle cx="1052" cy="694" r="7"/>
<circle cx="323.700" cy="1897" r="6.500"/><circle cx="323.700" cy="1871" r="6.500"/><circle cx="323.700" cy="1925" r="6.500"/><circle cx="323.700" cy="1951" r="6.500"/>
<circle cx="2483" cy="441" r="7"/><circle cx="2509" cy="441" r="7"/><circle cx="2536" cy="441" r="7"/><circle cx="2563" cy="441" r="7"/><circle cx="2590" cy="441" r="7"/>
<circle cx="1781" cy="1169" r="7"/><circle cx="2132" cy="1142" r="7"/><circle cx="1808" cy="1547" r="7"/><circle cx="1808" cy="1654" r="7"/>
<circle cx="1889" cy="1466" r="7"/><circle cx="1889" cy="1654" r="7"/><circle cx="1970" cy="1466" r="7"/><circle cx="1970" cy="1654" r="7"/><circle cx="2051" cy="1466" r="7"/><circle cx="2051" cy="1654" r="7"/><circle cx="2132" cy="1466" r="7"/>
<circle cx="1753" cy="2141" r="6.500"/>
<circle cx="1862" cy="1331" r="7"/><circle cx="1943" cy="1331" r="7"/><circle cx="2024" cy="1331" r="7"/><circle cx="2105" cy="1331" r="7"/><circle cx="2186" cy="1331" r="7"/>
</g>
<g fill="rgba(40,200,170,.55)">
<circle cx="323.700" cy="2007" r="6"/><circle cx="350.700" cy="2007" r="6"/><circle cx="377.700" cy="2007" r="6"/><circle cx="404.700" cy="2007" r="6"/><circle cx="431.700" cy="2007" r="6"/><circle cx="458.700" cy="2007" r="6"/><circle cx="485.700" cy="2007" r="6"/><circle cx="512.700" cy="2007" r="6"/><circle cx="539.700" cy="2007" r="6"/><circle cx="566.700" cy="2007" r="6"/><circle cx="593.700" cy="2007" r="6"/><circle cx="620.700" cy="2007" r="6"/><circle cx="647.700" cy="2007" r="6"/><circle cx="674.700" cy="2007" r="6"/><circle cx="701.700" cy="2007" r="6"/><circle cx="728.700" cy="2007" r="6"/>
<circle cx="323.700" cy="2112" r="6"/><circle cx="350.700" cy="2112" r="6"/><circle cx="377.700" cy="2112" r="6"/><circle cx="404.700" cy="2112" r="6"/><circle cx="431.700" cy="2112" r="6"/><circle cx="458.700" cy="2112" r="6"/><circle cx="485.700" cy="2112" r="6"/><circle cx="512.700" cy="2112" r="6"/><circle cx="539.700" cy="2112" r="6"/><circle cx="566.700" cy="2112" r="6"/><circle cx="593.700" cy="2112" r="6"/><circle cx="620.700" cy="2112" r="6"/><circle cx="647.700" cy="2112" r="6"/><circle cx="674.700" cy="2112" r="6"/><circle cx="701.700" cy="2112" r="6"/><circle cx="728.700" cy="2112" r="6"/>
</g>
<g fill="rgba(240,70,90,.6)" stroke="rgba(250,80,100,.7)" stroke-width="1.500"><circle cx="773" cy="1905.700" r="7"/><circle cx="773" cy="1932.300" r="7"/></g>
<g fill="rgba(120,70,180,.5)"><circle cx="728.700" cy="1905.700" r="6"/><circle cx="728.700" cy="1932.300" r="6"/></g>

<!-- Bottom -->
<rect x="34" y="2551.500" width="781" height="1.500" fill="#7f9f30"/><rect x="815" y="2551.500" width="31" height="1.500" fill="#222"/><rect x="846" y="2551.500" width="38" height="1.500" fill="#207a35"/>
<text x="2485" y="2540" font-size="45" font-weight="bold" fill="#8c8c8c" textLength="173" lengthAdjust="spacingAndGlyphs" style="font-family:'DejaVu Sans',sans-serif">fritzing</text>
</svg>
</body></html>
